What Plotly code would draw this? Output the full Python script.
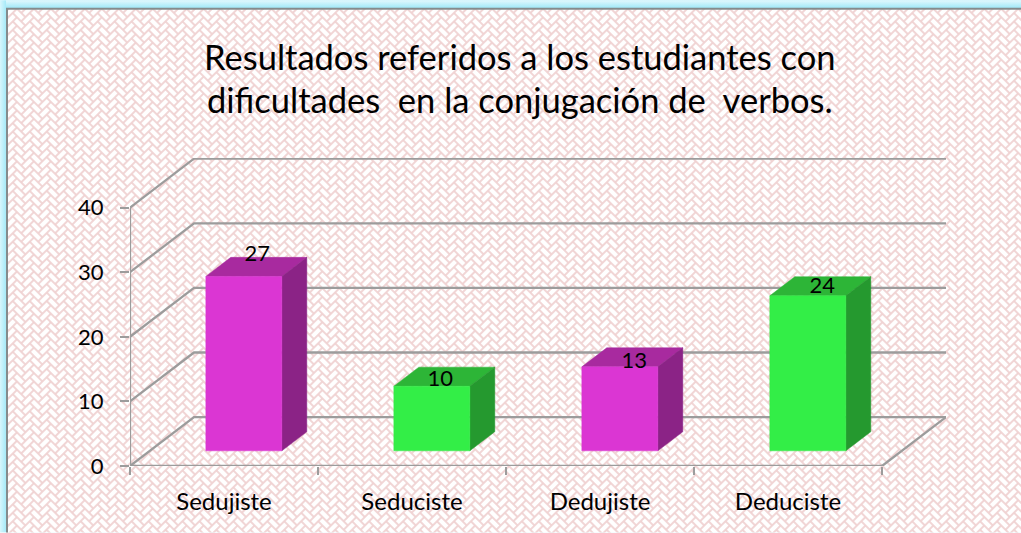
import base64
import plotly.graph_objects as go

categories = ["Sedujiste", "Seduciste", "Dedujiste", "Deduciste"]
values = [27, 10, 13, 24]
y_ticks = [0, 10, 20, 30, 40]
title_lines = ["Resultados referidos a los estudiantes con",
               "dificultades  en la conjugación de  verbos."]

W, H = 1021, 533
# plot area in pixels
L, R, T, B = 130, 946, 158, 466.5
PX_PER_CAT = 188.0
PX_PER_VAL = 6.47
xr = (R - L) / PX_PER_CAT
yr = (B - T) / PX_PER_VAL
# depth of floor in data units
DX = 64 / PX_PER_CAT
DY = 49 / PX_PER_VAL
N = len(categories)

GREY = "#9c9c9c"
MAG = dict(front="#DB36D3", top="#A82A9F", side="#8B2386")
GRN = dict(front="#33EE47", top="#2DB537", side="#25992F")
BAR_W = 76 / PX_PER_CAT
D0, D1 = 0.31, 0.70  # depth extent of the bars
# hand placement of the value labels, in pixels
LABEL_NUDGE_X = [1, -4, 2, 2]
LABEL_NUDGE_Y = [11, -4, -5, -1]
TITLE_CENTRE_Y = [56, 99]  # pixels from the top


def proj(x, v, d):
    return x + d * DX, v + d * DY


# ----- background texture (herringbone tile + card border) as an SVG picture
u = 6.0
gap = 0.9
k = 2
bricks = []
for i in range(-10, 14):
    for j in range(-10, 14):
        ox = i + j * (k + 1)
        oy = i - j * (k - 1)
        if -6 <= ox <= 10 and -6 <= oy <= 10:
            bricks.append(f'<rect x="{ox*u+gap}" y="{oy*u+gap}" width="{k*u-2*gap}" height="{u-2*gap}"/>')
            bricks.append(f'<rect x="{(ox+k)*u+gap}" y="{(oy-k+1)*u+gap}" width="{u-2*gap}" height="{k*u-2*gap}"/>')
tile = 4 * u
svg = f'''<svg xmlns="http://www.w3.org/2000/svg" width="{W}" height="{H}" viewBox="0 0 {W} {H}">
<defs>
<filter id="soft" x="0" y="0" width="100%" height="100%"><feGaussianBlur stdDeviation="0.5"/></filter>
<pattern id="p" width="{tile}" height="{tile}" patternUnits="userSpaceOnUse" patternTransform="rotate(45)">
<rect width="{tile}" height="{tile}" fill="#F0D2D2"/><g fill="#ffffff">{''.join(bricks)}</g></pattern>
<linearGradient id="gl" x1="0" x2="1" y1="0" y2="0"><stop offset="0" stop-color="#D8F6FC"/><stop offset="1" stop-color="#A6EAF8"/></linearGradient>
<linearGradient id="gt" x1="0" x2="0" y1="0" y2="1"><stop offset="0" stop-color="#E2F8FD"/><stop offset="1" stop-color="#A6EAF8"/></linearGradient>
</defs>
<rect width="{W}" height="{H}" fill="#A6EAF8"/>
<rect width="{W}" height="7" fill="url(#gt)"/>
<rect width="6" height="{H}" fill="url(#gl)"/>
<rect x="7" y="8.5" width="{W+20}" height="{H+20}" fill="url(#p)" filter="url(#soft)"/>
<rect x="7" y="8.5" width="{W+20}" height="{H+20}" fill="none" stroke="#858b8c" stroke-width="2"/>
</svg>'''
bg = "data:image/svg+xml;base64," + base64.b64encode(svg.encode()).decode()

fig = go.Figure()


def line(xs, ys, width=2.3):
    fig.add_trace(go.Scatter(x=xs, y=ys, mode="lines", line=dict(color=GREY, width=width),
                             hoverinfo="skip", showlegend=False, cliponaxis=False))


def poly(pts, color):
    xs = [p[0] for p in pts] + [pts[0][0]]
    ys = [p[1] for p in pts] + [pts[0][1]]
    fig.add_trace(go.Scatter(x=xs, y=ys, mode="lines", fill="toself", fillcolor=color,
                             line=dict(color=color, width=0.5), hoverinfo="skip",
                             showlegend=False, cliponaxis=False))


# walls / gridlines
for t in y_ticks:
    px, py = proj(0, t, 1)
    qx, qy = proj(N, t, 1)
    line([0, px, qx], [t, py, qy])
fx, fy = proj(N, 0, 1)
line([N, fx], [0, fy])
line([0, N], [0, 0])
line([0, 0], [0, y_ticks[-1]])

# bars
for i, v in enumerate(values):
    pal = MAG if i % 2 == 0 else GRN
    x0 = i + 0.5 - BAR_W / 2
    x1 = x0 + BAR_W
    a, b = proj(x0, 0, D0), proj(x1, 0, D0)
    c, d = proj(x1, v, D0), proj(x0, v, D0)
    b2, c2, d2 = proj(x1, 0, D1), proj(x1, v, D1), proj(x0, v, D1)
    poly([d, c, c2, d2], pal["top"])
    poly([b, b2, c2, c], pal["side"])
    poly([a, b, c, d], pal["front"])

# value labels, centred on each bar's top face
lab_x, lab_y = [], []
for i, v in enumerate(values):
    cx, cy = proj(i + 0.5, v, (D0 + D1) / 2)
    lab_x.append(cx + LABEL_NUDGE_X[i] / PX_PER_CAT)
    lab_y.append(cy + LABEL_NUDGE_Y[i] / PX_PER_VAL)
fig.add_trace(go.Scatter(x=lab_x, y=lab_y, mode="text", text=[str(v) for v in values],
                         textposition="middle center", textfont=dict(family="Lato", size=22, color="#000"),
                         hoverinfo="skip", showlegend=False, cliponaxis=False))

# tick marks for category boundaries on an overlaid axis
fig.add_trace(go.Scatter(x=[0], y=[0], xaxis="x2", mode="none", hoverinfo="skip", showlegend=False))

title_annotations = [
    dict(text=line_text, xref="paper", yref="paper",
         x=((204 + 835) / 2 - L) / (R - L), y=(B - cy) / (B - T),
         xanchor="center", yanchor="middle", showarrow=False,
         font=dict(family="Lato", size=34.5, color="#000"))
    for line_text, cy in zip(title_lines, TITLE_CENTRE_Y)
]

fig.update_layout(
    width=W, height=H, autosize=False,
    margin=dict(l=L, r=W - R, t=T, b=H - B, pad=0),
    paper_bgcolor="rgba(0,0,0,0)", plot_bgcolor="rgba(0,0,0,0)",
    font=dict(family="Lato", color="#000"),
    annotations=title_annotations,
    xaxis=dict(range=[0, xr], tickmode="array", tickvals=[i + 0.5 for i in range(N)], ticktext=categories,
               ticks="", showgrid=False, zeroline=False, showline=False, ticklabelstandoff=19,
               tickfont=dict(family="Lato", size=24), fixedrange=True),
    xaxis2=dict(range=[0, xr], overlaying="x", side="bottom", tickmode="array", tickvals=list(range(N + 1)),
                ticks="outside", ticklen=8, tickwidth=2.3, tickcolor=GREY, showticklabels=False,
                showgrid=False, zeroline=False, showline=False, fixedrange=True),
    yaxis=dict(range=[0, yr], tickmode="array", tickvals=y_ticks, ticks="outside", ticklen=9, tickwidth=2.3,
               tickcolor=GREY, showgrid=False, zeroline=False, showline=False, ticklabelstandoff=12,
               tickfont=dict(family="Lato", size=22), fixedrange=True),
    images=[dict(source=bg, xref="paper", yref="paper", x=-L / (R - L), y=B / (B - T),
                 sizex=W / (R - L), sizey=H / (B - T), sizing="stretch", layer="below",
                 xanchor="left", yanchor="top")],
)

fig.write_html("out.html", config=dict(displayModeBar=False),
               post_script="document.body.style.margin='0';document.body.style.overflow='hidden';")
